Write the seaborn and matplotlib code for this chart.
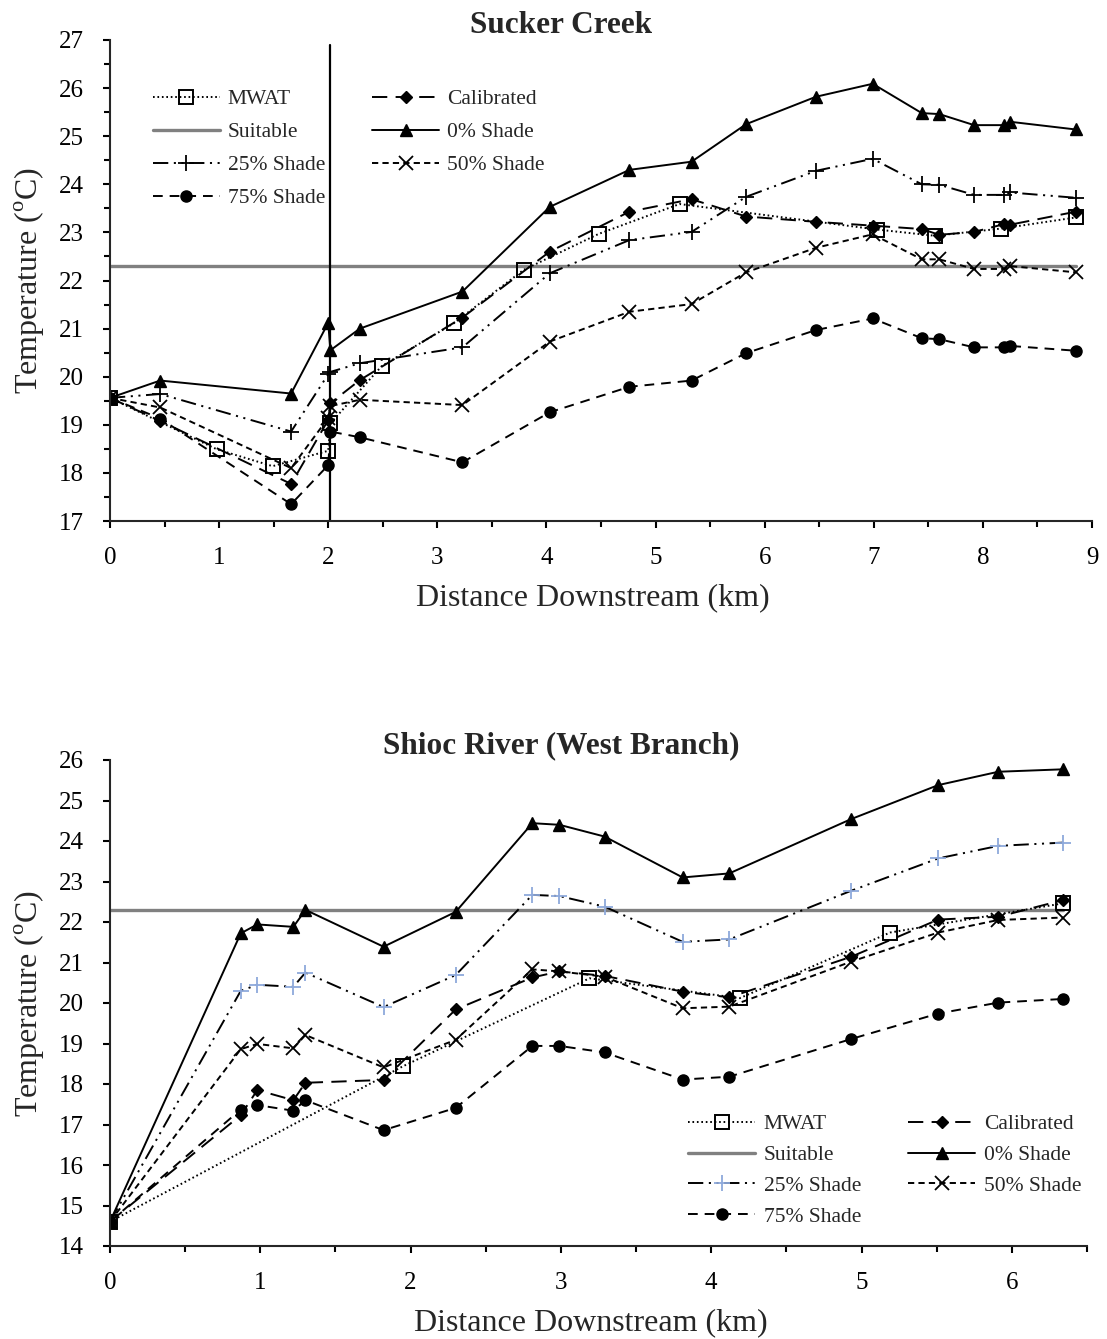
import matplotlib
matplotlib.use("Agg")
import matplotlib.pyplot as plt
import seaborn as sns
import numpy as np
from matplotlib.ticker import MultipleLocator

# ---------------- data: Sucker Creek ----------------
sc_x = [0, 0.46, 1.66, 2.00, 2.02, 2.29, 3.23, 4.03, 4.76, 5.33, 5.83, 6.47, 6.99,
        7.44, 7.60, 7.92, 8.19, 8.25, 8.85]
sc_shade0 = [19.56, 19.92, 19.65, 21.12, 20.55, 21.00, 21.77, 23.53, 24.30, 24.47, 25.25,
             25.82, 26.09, 25.48, 25.46, 25.23, 25.23, 25.30, 25.14]
sc_shade25 = [19.56, 19.64, 18.86, 20.05, 20.10, 20.28, 20.61, 22.15, 22.84, 23.01, 23.74,
              24.28, 24.53, 24.00, 23.99, 23.78, 23.78, 23.83, 23.72]
sc_shade50 = [19.56, 19.36, 18.10, 19.14, 19.39, 19.52, 19.41, 20.73, 21.35, 21.51, 22.17,
              22.68, 22.96, 22.44, 22.44, 22.24, 22.24, 22.30, 22.17]
sc_shade75 = [19.56, 19.13, 17.35, 18.16, 18.86, 18.74, 18.22, 19.26, 19.79, 19.92, 20.49,
              20.97, 21.21, 20.80, 20.78, 20.61, 20.61, 20.64, 20.54]
sc_calib = [19.56, 19.08, 17.77, 19.10, 19.45, 19.93, 21.23, 22.60, 23.43, 23.69, 23.33,
            23.22, 23.14, 23.07, 22.95, 23.01, 23.17, 23.16, 23.43]
sc_mwat_x = [0, 0.98, 1.49, 2.00, 2.02, 2.49, 3.15, 3.79, 4.48, 5.22, 7.03, 7.56, 8.17, 8.85]
sc_mwat = [19.56, 18.49, 18.14, 18.46, 19.03, 20.22, 21.11, 22.22, 22.97, 23.59, 23.06,
           22.93, 23.08, 23.31]
sc_suit_x = [0, 8.85]
sc_suit = [22.3, 22.3]
sc_confluence = 2.02

# ---------------- data: Shioc River (West Branch) ----------------
sr_x = [0, 0.87, 0.98, 1.22, 1.30, 1.82, 2.30, 2.81, 2.99, 3.29, 3.81, 4.12, 4.93, 5.51,
        5.91, 6.34]
sr_shade0 = [14.60, 21.72, 21.94, 21.88, 22.30, 21.39, 22.25, 24.44, 24.40, 24.11, 23.10,
             23.20, 24.54, 25.38, 25.71, 25.77]
sr_shade25 = [14.60, 20.30, 20.45, 20.40, 20.75, 19.90, 20.69, 22.67, 22.64, 22.38, 21.51,
              21.57, 22.77, 23.57, 23.88, 23.96]
sr_shade50 = [14.60, 18.86, 18.99, 18.88, 19.21, 18.41, 19.09, 20.83, 20.78, 20.65, 19.87,
              19.91, 21.02, 21.74, 22.05, 22.11]
sr_shade75 = [14.60, 17.37, 17.48, 17.34, 17.60, 16.86, 17.41, 18.94, 18.94, 18.78, 18.11,
              18.18, 19.11, 19.74, 20.01, 20.10]
sr_calib = [14.60, 17.23, 17.85, 17.60, 18.03, 18.10, 19.84, 20.63, 20.78, 20.67, 20.28,
            20.14, 21.14, 22.06, 22.13, 22.54]
sr_mwat_x = [0, 1.95, 3.19, 4.19, 5.19, 6.34]
sr_mwat = [14.60, 18.44, 20.61, 20.12, 21.74, 22.46]
sr_suit_x = [0, 6.34]
sr_suit = [22.3, 22.3]

labels = ["MWAT", "Suitable", "25% Shade", "75% Shade", "Calibrated", "0% Shade", "50% Shade"]

# ---------------- style ----------------
sns.set_theme(style="ticks")
plt.rcParams["font.family"] = ["Liberation Serif", "DejaVu Serif"]
plt.rcParams["mathtext.fontset"] = "custom"
plt.rcParams["mathtext.rm"] = "Liberation Serif"
plt.rcParams["lines.scale_dashes"] = False
plt.rcParams["axes.linewidth"] = 1.5

fig = plt.figure(figsize=(11.07, 13.39), dpi=100)
ax1 = fig.add_axes([110 / 1107, 1 - 521 / 1339, (1092 - 110) / 1107, (521 - 40) / 1339])
ax2 = fig.add_axes([110 / 1107, 1 - 1246 / 1339, (1087 - 110) / 1107, (1246 - 760) / 1339])

LW = 1.4
styles = {
    "MWAT": dict(color="black", linestyle=(0, (1.2, 2.0)), marker="s", markersize=10,
                 markerfacecolor="none", markeredgecolor="black", markeredgewidth=1.4),
    "Suitable": dict(color="#808080", linestyle="-", linewidth=2.4, marker=None),
    "25% Shade": dict(color="black", linestyle=(0, (11, 4, 1.5, 4, 1.5, 4)), marker="+",
                      markersize=11, markeredgecolor="black", markeredgewidth=1.3),
    "75% Shade": dict(color="black", linestyle=(0, (7, 5)), marker="o", markersize=8,
                      markerfacecolor="black", markeredgecolor="black", markeredgewidth=1),
    "Calibrated": dict(color="black", linestyle=(0, (11, 6)), marker="D", markersize=6,
                       markerfacecolor="black", markeredgecolor="black", markeredgewidth=1),
    "0% Shade": dict(color="black", linestyle="-", marker="^", markersize=8,
                     markerfacecolor="black", markeredgecolor="black", markeredgewidth=1),
    "50% Shade": dict(color="black", linestyle=(0, (4.5, 3)), marker="x", markersize=10,
                      markeredgecolor="black", markeredgewidth=1.3),
}


def draw(ax, series, blue_plus=False):
    order = ["Suitable", "75% Shade", "50% Shade", "25% Shade", "Calibrated", "0% Shade", "MWAT"]
    for name in order:
        xs, ys = series[name]
        kw = dict(styles[name])
        kw.setdefault("linewidth", LW)
        if blue_plus and name == "25% Shade":
            kw["markeredgecolor"] = "#8EA9DB"
        sns.lineplot(x=xs, y=ys, ax=ax, sort=False, estimator=None, label=name, **kw)
    hl = {l.get_label(): l for l in ax.get_lines()}
    return [hl[n] for n in labels]


series1 = {
    "MWAT": (sc_mwat_x, sc_mwat), "Suitable": (sc_suit_x, sc_suit),
    "25% Shade": (sc_x, sc_shade25), "75% Shade": (sc_x, sc_shade75),
    "Calibrated": (sc_x, sc_calib), "0% Shade": (sc_x, sc_shade0),
    "50% Shade": (sc_x, sc_shade50),
}
series2 = {
    "MWAT": (sr_mwat_x, sr_mwat), "Suitable": (sr_suit_x, sr_suit),
    "25% Shade": (sr_x, sr_shade25), "75% Shade": (sr_x, sr_shade75),
    "Calibrated": (sr_x, sr_calib), "0% Shade": (sr_x, sr_shade0),
    "50% Shade": (sr_x, sr_shade50),
}

h1 = draw(ax1, series1)
ax1.axvline(sc_confluence, ymin=0, ymax=0.99, color="black", linewidth=1.6)
h2 = draw(ax2, series2, blue_plus=True)

FS_TICK = 18
FS_LAB = 23
FS_TITLE = 22.5
FS_LEG = 15.5

for ax, xmax, ymin, ymax, yminor, title, tx in [
    (ax1, 9, 17, 27, 0.5, "Sucker Creek", 0.459),
    (ax2, 6.5, 14, 26, None, "Shioc River (West Branch)", 0.462),
]:
    ax.set_xlim(0, xmax)
    ax.set_ylim(ymin, ymax)
    ax.xaxis.set_major_locator(MultipleLocator(1))
    ax.xaxis.set_minor_locator(MultipleLocator(0.5))
    ax.yaxis.set_major_locator(MultipleLocator(1))
    if yminor:
        ax.yaxis.set_minor_locator(MultipleLocator(yminor))
    ax.tick_params(axis="both", which="both", direction="out", width=1.5, colors="black",
                   labelsize=FS_TICK)
    ax.tick_params(axis="both", which="major", length=5)
    ax.tick_params(axis="both", which="minor", length=4)
    ax.tick_params(axis="x", which="major", pad=14)
    ax.tick_params(axis="y", which="major", pad=14)
    sns.despine(ax=ax)
    ax.set_xlabel("Distance Downstream (km)", fontsize=FS_LAB, labelpad=10, x=0.492)
    ax.set_ylabel(r"Temperature ($^{\rm o}$C)", fontsize=FS_LAB, labelpad=8)
    ax.set_title(title, fontsize=FS_TITLE, fontweight="bold", pad=5, x=tx)
    if ax.get_legend():
        ax.get_legend().remove()

ax1.legend(h1, labels, ncol=2, frameon=False, fontsize=FS_LEG, loc="upper left",
           bbox_to_anchor=(0.024, 0.9376), handlelength=3.1, columnspacing=2.2,
           labelspacing=0.6, handletextpad=0.37)
ax2.legend(h2, labels, ncol=2, frameon=False, fontsize=FS_LEG, loc="upper left",
           bbox_to_anchor=(0.572, 0.311), handlelength=3.1, columnspacing=2.2,
           labelspacing=0.5, handletextpad=0.4)

fig.savefig("out.png", dpi=100)
